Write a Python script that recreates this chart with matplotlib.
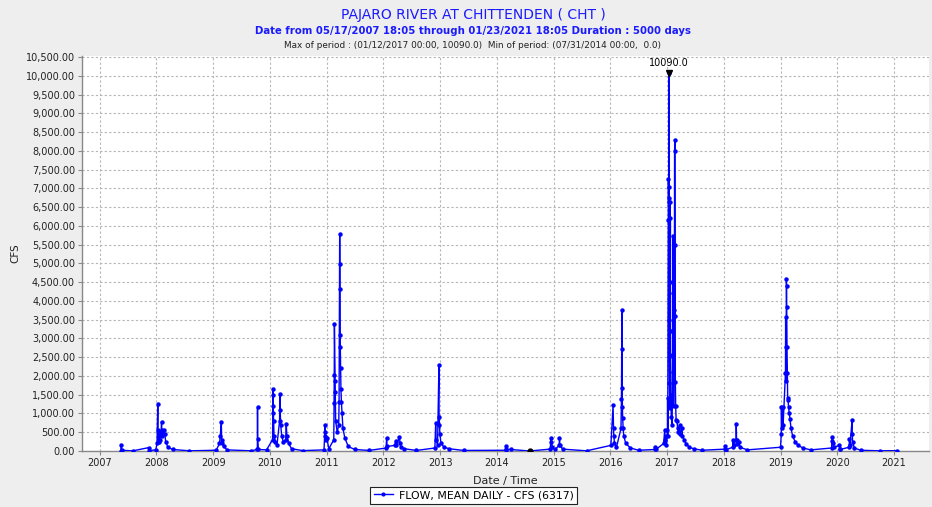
import matplotlib
matplotlib.use("Agg")
import matplotlib.pyplot as plt
from matplotlib.lines import Line2D
import pandas as pd

# ---------------- data ----------------
dates = [
    "2007-05-17", "2007-05-20", "2007-05-23", "2007-08-01", "2007-11-12", "2007-11-15",
    "2007-12-28", "2008-01-05", "2008-01-10", "2008-01-12", "2008-01-15", "2008-01-25",
    "2008-01-27", "2008-01-31", "2008-02-03", "2008-02-05", "2008-02-08", "2008-02-20",
    "2008-02-24", "2008-03-01", "2008-03-15", "2008-04-15", "2008-08-01",
    "2009-01-20", "2009-02-10", "2009-02-15", "2009-02-22", "2009-02-24", "2009-02-28",
    "2009-03-08", "2009-04-01", "2009-09-01",
    "2009-10-12", "2009-10-13", "2009-10-14", "2009-10-18", "2009-12-10",
    "2010-01-18", "2010-01-20", "2010-01-21", "2010-01-22", "2010-01-23", "2010-01-25",
    "2010-01-27", "2010-02-05", "2010-02-15", "2010-03-04", "2010-03-06", "2010-03-08",
    "2010-03-11", "2010-03-18", "2010-03-28", "2010-04-12", "2010-04-16", "2010-04-20",
    "2010-05-01", "2010-05-20", "2010-08-01",
    "2010-12-15", "2010-12-19", "2010-12-21", "2010-12-23", "2010-12-27", "2011-01-02",
    "2011-01-15", "2011-02-16", "2011-02-18", "2011-02-19", "2011-02-20", "2011-02-25",
    "2011-02-26", "2011-02-28", "2011-03-10", "2011-03-20", "2011-03-22", "2011-03-26",
    "2011-03-27", "2011-03-28", "2011-03-29", "2011-03-30", "2011-04-01", "2011-04-03",
    "2011-04-06", "2011-04-10", "2011-04-16", "2011-04-28", "2011-05-20", "2011-07-01",
    "2011-10-01",
    "2012-01-19", "2012-01-22", "2012-01-25", "2012-03-15", "2012-03-20", "2012-03-25",
    "2012-04-14", "2012-04-17", "2012-04-22", "2012-05-15", "2012-08-01",
    "2012-11-28", "2012-12-03", "2012-12-06", "2012-12-15", "2012-12-24", "2012-12-25",
    "2012-12-27", "2012-12-30", "2013-01-06", "2013-01-25", "2013-03-01", "2013-06-01",
    "2014-02-26", "2014-02-28", "2014-03-03", "2014-04-01", "2014-07-31",
    "2014-12-10", "2014-12-16", "2014-12-18", "2014-12-24", "2015-01-10", "2015-02-06",
    "2015-02-08", "2015-02-11", "2015-03-01", "2015-08-01",
    "2016-01-05", "2016-01-19", "2016-01-22", "2016-01-24", "2016-01-28", "2016-02-10",
    "2016-03-10", "2016-03-13", "2016-03-16", "2016-03-17", "2016-03-18", "2016-03-19",
    "2016-03-21", "2016-03-24", "2016-03-28", "2016-04-10", "2016-05-10", "2016-07-01",
    "2016-10-15", "2016-10-17", "2016-10-20", "2016-12-10", "2016-12-16", "2016-12-19",
    "2016-12-22", "2016-12-28",
    "2017-01-03", "2017-01-04", "2017-01-05", "2017-01-08", "2017-01-09", "2017-01-10",
    "2017-01-11", "2017-01-12", "2017-01-13", "2017-01-14", "2017-01-16", "2017-01-18",
    "2017-01-19", "2017-01-20", "2017-01-21", "2017-01-22", "2017-01-23", "2017-01-25",
    "2017-01-28", "2017-02-02", "2017-02-06", "2017-02-07", "2017-02-08", "2017-02-10",
    "2017-02-12", "2017-02-17", "2017-02-18", "2017-02-20", "2017-02-21", "2017-02-22",
    "2017-02-23", "2017-02-25", "2017-02-28", "2017-03-05", "2017-03-10", "2017-03-15",
    "2017-03-22", "2017-03-25", "2017-04-07", "2017-04-10", "2017-04-20", "2017-05-05",
    "2017-05-25", "2017-06-20", "2017-08-15",
    "2018-01-08", "2018-01-09", "2018-01-12", "2018-02-27", "2018-03-01", "2018-03-05",
    "2018-03-21", "2018-03-22", "2018-03-24", "2018-03-28", "2018-04-07", "2018-04-15",
    "2018-06-01",
    "2019-01-01", "2019-01-06", "2019-01-07", "2019-01-09", "2019-01-16", "2019-01-18",
    "2019-02-02", "2019-02-03", "2019-02-04", "2019-02-05", "2019-02-08", "2019-02-09",
    "2019-02-10", "2019-02-12", "2019-02-14", "2019-02-16", "2019-02-19", "2019-02-22",
    "2019-02-27", "2019-03-03", "2019-03-10", "2019-03-20", "2019-04-05", "2019-04-25",
    "2019-05-25", "2019-07-15",
    "2019-11-26", "2019-11-28", "2019-12-01", "2019-12-04", "2019-12-10", "2020-01-15",
    "2020-01-17", "2020-01-20", "2020-03-17", "2020-03-20", "2020-03-23", "2020-04-06",
    "2020-04-07", "2020-04-09", "2020-04-20", "2020-06-01", "2020-10-01", "2021-01-23",
]
flow_cfs = [
    5, 150, 20, 3, 90, 10,
    30, 200, 1260, 560, 250, 500,
    300, 450, 780, 550, 400, 550,
    450, 250, 100, 40, 5,
    20, 200, 400, 760, 300, 200,
    120, 30, 5,
    40, 1160, 330, 40, 30,
    300, 1640, 1500, 1200, 1000, 800,
    400, 250, 150, 800, 1520, 1100,
    700, 400, 250, 300, 720, 400,
    200, 60, 10,
    30, 400, 690, 510, 300, 350,
    60, 300, 1270, 2020, 3390, 1870,
    1580, 800, 500, 700, 1300, 5790,
    4990, 4320, 3085, 2770, 2200, 1660,
    1300, 1000, 600, 350, 120, 40,
    15,
    80, 350, 120, 150, 270, 150,
    380, 220, 100, 60, 15,
    80, 740, 300, 150, 2290, 910,
    700, 450, 220, 100, 60, 15,
    20, 130, 40, 40, 0,
    50, 340, 250, 100, 40, 150,
    340, 150, 50, 5,
    150, 1220, 600, 400, 200, 100,
    600, 1380, 3770, 2710, 1670, 1180,
    870, 600, 400, 200, 80, 20,
    40, 115, 40, 200, 560, 300,
    400, 150,
    570, 1400, 400, 6170, 7260, 7030,
    6650, 10090, 6740, 3500, 1800, 1140,
    6650, 4500, 2570, 6210, 3200, 1500,
    900, 700, 2500, 5720, 4200, 2100,
    1200, 3760, 7990, 8280, 5500, 3590,
    1850, 1200, 830, 800, 600, 500,
    700, 450, 600, 400, 300, 180,
    100, 60, 20,
    50, 130, 30, 100, 290, 150,
    300, 710, 300, 180, 250, 100,
    30,
    100, 460, 1160, 600, 1180, 700,
    2090, 3560, 2760, 1860, 4580, 4390,
    3830, 2760, 2090, 1420, 1350, 1160,
    1000, 850, 600, 400, 250, 150,
    80, 30,
    80, 270, 360, 200, 100, 150,
    60, 40, 100, 310, 150, 820,
    450, 250, 80, 20, 5, 10,
]
year_ticks = list(range(2007, 2022))
y_ticks = list(range(0, 10501, 500))
max_date, max_val = "2017-01-12", 10090.0
min_date, min_val = "2014-07-31", 0.0

title = "PAJARO RIVER AT CHITTENDEN ( CHT )"
subtitle = "Date from 05/17/2007 18:05 through 01/23/2021 18:05 Duration : 5000 days"
subsub = "Max of period : (01/12/2017 00:00, 10090.0)  Min of period: (07/31/2014 00:00,  0.0)"
legend_label = "FLOW, MEAN DAILY - CFS (6317)"

# ---------------- figure ----------------
W, H = 932, 507
fig = plt.figure(figsize=(W / 100, H / 100), dpi=100, facecolor="#eeeeee")
L, R, T, B = 82, 929, 56, 451
ax = fig.add_axes([L / W, 1 - B / H, (R - L) / W, (B - T) / H])
ax.set_facecolor("white")

x = pd.to_datetime(dates)
ax.plot(x, flow_cfs, color="#0000ff", lw=1.0, marker="o", ms=3.2,
        markeredgewidth=0, zorder=3, solid_joinstyle="round")

# max / min markers
ax.plot(pd.to_datetime([max_date]), [max_val], marker="v", ms=5, color="black", zorder=4)
ax.plot(pd.to_datetime([min_date]), [min_val], marker="o", ms=3.5, color="black", zorder=4)
ax.annotate(f"{max_val:.1f}", (pd.to_datetime(max_date), max_val), xytext=(0, 3),
            textcoords="offset points", ha="center", va="bottom", fontsize=7,
            color="black")

ax.set_xlim(pd.Timestamp("2006-09-09"), pd.Timestamp("2021-08-14"))
ax.set_ylim(0, 10530)
ax.set_yticks(y_ticks)
ax.set_yticklabels([f"{v:,.2f}" for v in y_ticks])
ax.set_xticks([pd.Timestamp(f"{y}-01-01") for y in year_ticks])
ax.set_xticklabels([str(y) for y in year_ticks])
ax.tick_params(axis="both", labelsize=7, length=3, width=0.8,
               direction="out", pad=2, colors="#888888", labelcolor="#222222")

ax.grid(True, color="#b5b5b5", linestyle=(0, (2, 2)), linewidth=0.8)
ax.set_axisbelow(True)
for s in ["top", "right"]:
    ax.spines[s].set_visible(False)
for s in ["left", "bottom"]:
    ax.spines[s].set_color("#888888")
    ax.spines[s].set_linewidth(1.0)

ax.set_ylabel("CFS", fontsize=7.5, color="#222222")
ax.yaxis.set_label_coords(-(82 - 20) / (R - L), 0.5)
ax.set_xlabel("Date / Time", fontsize=8, color="#222222", labelpad=6)

# titles
cx = 473 / W
fig.text(cx, 1 - 15 / H, title, ha="center", va="center", fontsize=10, color="#1a1aff")
fig.text(cx, 1 - 31 / H, subtitle, ha="center", va="center", fontsize=7.3,
         fontweight="bold", color="#1a1aff")
fig.text(cx, 1 - 45 / H, subsub, ha="center", va="center", fontsize=6.4, color="#222222")

# legend
h = Line2D([], [], color="#0000ff", lw=1.0, marker="o", ms=3.0, markeredgewidth=0)
leg = fig.legend([h], [legend_label], loc="upper center",
                 bbox_to_anchor=(473.5 / W, 1 - 487 / H), fontsize=7.8,
                 frameon=True, fancybox=False, framealpha=1, edgecolor="#222222",
                 handlelength=1.8, handletextpad=0.5, borderpad=0.3, borderaxespad=0)
leg.get_frame().set_linewidth(0.8)

fig.savefig("out.png", dpi=100, facecolor=fig.get_facecolor())
